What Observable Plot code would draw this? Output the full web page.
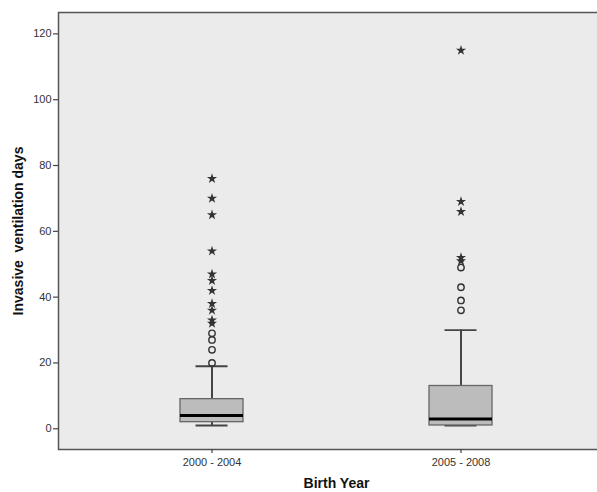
<!DOCTYPE html>
<html>
<head>
<meta charset="utf-8">
<script src="https://cdn.jsdelivr.net/npm/d3@7"></script>
<script src="https://cdn.jsdelivr.net/npm/@observablehq/plot@0.6"></script>
<style>
  html, body { margin: 0; padding: 0; background: #fff; overflow: hidden; }
  #chart { width: 597px; height: 492px; overflow: hidden; }
  #chart svg { max-width: none !important; }
</style>
</head>
<body>
<div id="chart"></div>
<script>
const groups = ["2000 - 2004", "2005 - 2008"];
const q1 = [2, 1];
const median = [4, 3];
const q3 = [9, 13];
const whiskerLow = [1, 1];
const whiskerHigh = [19, 30];
const mildOutliers = [[20, 24, 27, 29], [36, 39, 43, 49]];
const extremeOutliers = [
  [32, 33, 36, 38, 42, 45, 47, 54, 65, 70, 76],
  [51, 52, 66, 69, 115]
];
const yTicks = [0, 20, 40, 60, 80, 100, 120];
const xTitle = "Birth Year";
const yTitle = "Invasive  ventilation days";

const boxes = groups.map((g, i) => ({
  group: g, q1: q1[i], median: median[i], q3: q3[i],
  lo: whiskerLow[i], hi: whiskerHigh[i]
}));
const circles = groups.flatMap((g, i) => mildOutliers[i].map(v => ({group: g, value: v})));
const stars = groups.flatMap((g, i) => extremeOutliers[i].map(v => ({group: g, value: v})));

const font = "'Liberation Sans', Arial, sans-serif";

const chart = Plot.plot({
  width: 614,
  height: 492,
  marginLeft: 58,
  marginRight: 0,
  marginTop: 12,
  marginBottom: 43,
  style: {fontFamily: font, fontSize: "11px", color: "#333", background: "transparent", maxWidth: "none"},
  x: {type: "band", domain: groups, paddingInner: 0.748, paddingOuter: 0.486, axis: null},
  y: {domain: [-6.3, 126.5], axis: null},
  marks: [
    Plot.frame({fill: "#ebebeb", stroke: "#555", strokeWidth: 1.5}),
    Plot.axisY({ticks: yTicks, tickSize: 5, tickPadding: 2, label: null, stroke: "#444", strokeWidth: 1.2, fill: "#333", fontSize: 11}),
    Plot.axisX({tickSize: 4, tickPadding: 5, label: null, stroke: "#444", strokeWidth: 1.2, fill: "#333", fontSize: 11}),
    Plot.ruleX(boxes, {x: "group", y1: "q3", y2: "hi", stroke: "#333", strokeWidth: 1.8}),
    Plot.ruleX(boxes, {x: "group", y1: "lo", y2: "q1", stroke: "#333", strokeWidth: 1.8}),
    Plot.tickY(boxes, {x: "group", y: "hi", stroke: "#444", strokeWidth: 1.8, insetLeft: 15.5, insetRight: 15.5}),
    Plot.tickY(boxes, {x: "group", y: "lo", stroke: "#444", strokeWidth: 1.8, insetLeft: 15.5, insetRight: 15.5}),
    Plot.barY(boxes, {x: "group", y1: "q1", y2: "q3", fill: "#bcbcbc", stroke: "#666", strokeWidth: 1.3}),
    Plot.tickY(boxes, {x: "group", y: "median", stroke: "#000", strokeWidth: 3}),
    Plot.dot(circles, {x: "group", y: "value", r: 3.2, stroke: "#333", strokeWidth: 1.4, fill: "none"}),
    Plot.dot(stars, {x: "group", y: "value", symbol: "star", r: 3.2, fill: "#333", stroke: "none"}),
    Plot.text([xTitle], {text: d => d, frameAnchor: "bottom", textAnchor: "middle", dy: 38, fontSize: 14, fontWeight: "bold", fill: "#111"}),
    Plot.text([yTitle], {text: d => d, frameAnchor: "left", textAnchor: "middle", dx: -40, rotate: -90, fontSize: 14, fontWeight: "bold", fill: "#111"})
  ]
});
chart.style.maxWidth = "none";
chart.querySelectorAll("text").forEach(t => t.setAttribute("xml:space", "preserve"));
chart.style.whiteSpace = "pre";
document.getElementById("chart").appendChild(chart);
</script>
</body>
</html>
